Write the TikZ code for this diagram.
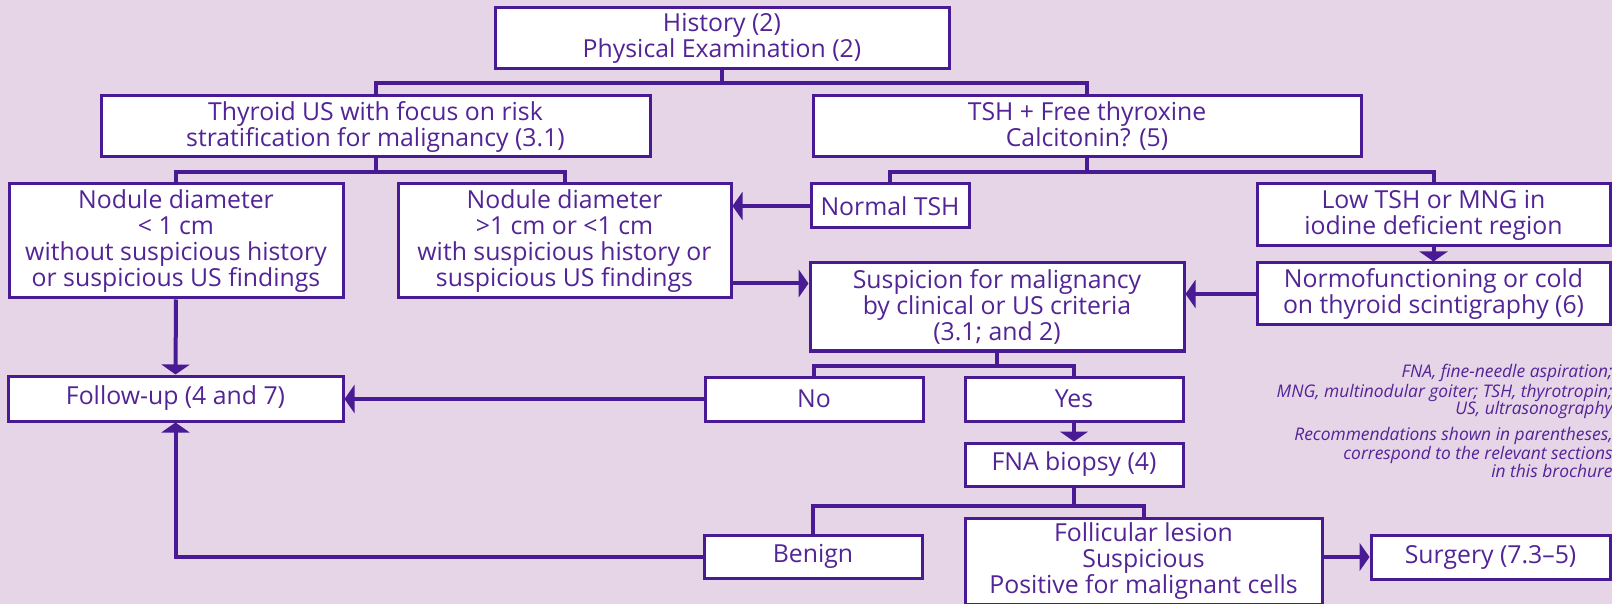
\documentclass[tikz,border=0pt]{standalone}
\usepackage{fontspec}
\setmainfont{Open Sans}
\usetikzlibrary{arrows.meta}
\definecolor{bg}{RGB}{230,212,231}
\definecolor{ink}{RGB}{72,26,148}
\definecolor{txt}{RGB}{82,36,150}
\begin{document}
\begin{tikzpicture}[x=0.5pt,y=-0.5pt,
  box/.style={draw=ink, line width=1.5pt, fill=white, text=txt, align=center,
    inner sep=0pt, font=\fontsize{12.4}{13}\selectfont},
  sz/.style 2 args={minimum width=#1*0.5pt, minimum height=#2*0.5pt},
  conn/.style={draw=ink, line width=2pt},
  arr/.style={conn, -{Triangle[length=5pt,width=14pt]}},
  note/.style={anchor=base east, inner sep=0pt, text=txt,
    font=\fontsize{8.7}{10}\selectfont\itshape},
]
\path[fill=bg] (0,0) rectangle (1612,604);
\useasboundingbox (0,0) rectangle (1612,604);
\begin{scope}
\clip (0,0) rectangle (1612,604);
% boxes
\node[box, sz={454}{61}] (hist) at (722,38.5) {History (2)\\Physical Examination (2)};
\node[box, sz={549}{61}] (thy) at (375.5,126.5) {Thyroid US with focus on risk\\stratification for malignancy (3.1)};
\node[box, sz={548}{61}] (tsh) at (1087,126.5) {TSH + Free thyroxine\\Calcitonin? (5)};
\node[box, sz={334}{114}] (nod1) at (176,241) {Nodule diameter\\< 1 cm\\without suspicious history\\or suspicious US findings};
\node[box, sz={333}{114}] (nod2) at (564.5,241) {Nodule diameter\\>1 cm or <1 cm\\with suspicious history or\\suspicious US findings};
\node[box, sz={158}{44}] (ntsh) at (890,206) {Normal TSH};
\node[box, sz={353}{62}] (ltsh) at (1433.5,215) {Low TSH or MNG in\\iodine deficient region};
\node[box, sz={353}{62}] (normo) at (1433.5,294) {Normofunctioning or cold\\on thyroid scintigraphy (6)};
\node[box, sz={374}{88}] (susp) at (997,307) {Suspicion for malignancy\\by clinical or US criteria\\(3.1; and 2)};
\node[box, sz={335}{45}] (fu) at (175.5,398.5) {Follow-up (4 and 7)};
\node[box, sz={218}{44}] (no) at (814,399) {No};
\node[box, sz={218}{44}] (yes) at (1074,399) {Yes};
\node[box, sz={218}{43}] (fna) at (1074,464.5) {FNA biopsy (4)};
\node[box, sz={218}{43}] (ben) at (813,556.5) {Benign};
\node[box, sz={357}{86}] (foll) at (1143.5,561) {Follicular lesion\\Suspicious\\Positive for malignant cells};
\node[box, sz={239}{44}] (surg) at (1490.5,557) {Surgery (7.3–5)};
% notes
\node[note] (n1) at (1613,378) {FNA, fine-needle aspiration;};
\node[note] (n2) at (1613,397) {MNG, multinodular goiter; TSH, thyrotropin;};
\node[note] (n3) at (1613,415) {US, ultrasonography};
\node[note] (n4) at (1613,440) {Recommendations shown in parentheses,};
\node[note] (n5) at (1613,459) {correspond to the relevant sections};
\node[note] (n6) at (1613,477) {in this brochure};
% connectors
\draw[conn] (hist.south) -- ++(0,13) -| (thy.north);
\draw[conn] (hist.south) -- ++(0,13) -| (tsh.north);
\draw[conn] (thy.south) -- ++(0,14) -| (nod1.north);
\draw[conn] (thy.south) -- ++(0,14) -| (nod2.north);
\draw[conn] (tsh.south) -- ++(0,14) -| (ntsh.north);
\draw[conn] (tsh.south) -- ++(0,14) -| (ltsh.north);
\draw[arr] (ntsh.west) -- (ntsh.west -| nod2.east);
\coordinate (n2o) at ([yshift=8pt]nod2.south east);
\draw[arr] (n2o) -- (n2o -| susp.west);
\draw[arr] (ltsh.south) -- (normo.north);
\draw[arr] (normo.west) -- (normo.west -| susp.east);
\draw[conn] (susp.south) -- ++(0,13) -| (no.north);
\draw[conn] (susp.south) -- ++(0,13) -| (yes.north);
\draw[arr] (nod1.south) -- (fu.north);
\draw[arr] (no.west) -- (no.west -| fu.east);
\draw[arr] (yes.south) -- (fna.north);
\draw[conn] (fna.south) -- ++(0,18) -| (ben.north);
\draw[conn] (fna.south) -- ++(0,18) -| (foll.north);
\draw[arr] (ben.west) -| (fu.south);
\draw[arr] (surg.west -| foll.east) -- (surg.west);
\end{scope}
\end{tikzpicture}
\end{document}
